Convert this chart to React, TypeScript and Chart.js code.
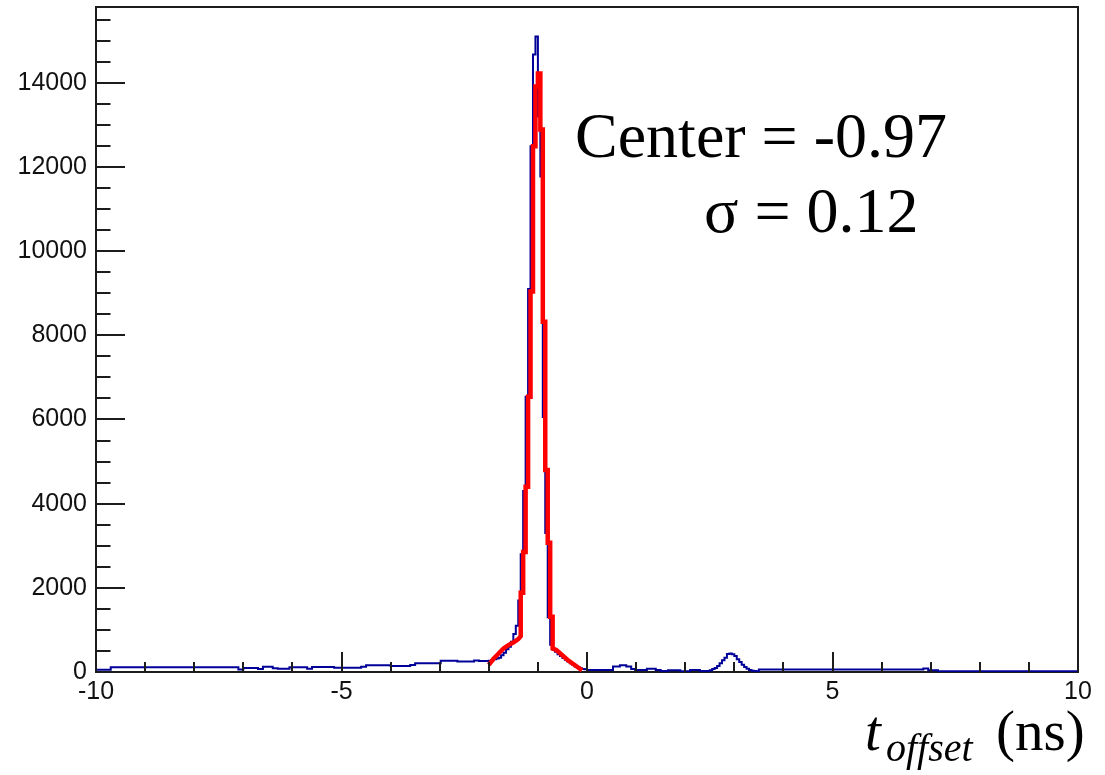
import React, { useEffect, useRef } from 'react';
import { Chart, registerables } from 'chart.js';

Chart.register(...registerables);

// ---- axis ranges & tick labels ----
const X_MIN = -10;
const X_MAX = 10;
const Y_MIN = 0;
const Y_MAX = 15800;
const xTickLabels = [-10, -5, 0, 5, 10];
const yTickLabels = [0, 2000, 4000, 6000, 8000, 10000, 12000, 14000];
const xMinorStep = 1;
const yMinorStep = 500;

// ---- histogram (blue): left bin edges and counts; last edge closes the histogram ----
const binLowEdges = [
  -10, -9.7, -7.1, -7.0, -6.7, -6.6, -6.4, -6.3, -6.06, -5.7, -5.6, -5.15, -4.6, -4.5, -4.0, -3.6, -3.5,
  -2.98, -2.64, -2.3, -2.2,
  -2.0, -1.95, -1.9, -1.85, -1.8, -1.75, -1.7, -1.65, -1.6, -1.55,
  -1.5, -1.45, -1.4, -1.35, -1.3, -1.25, -1.2, -1.15, -1.1, -1.05,
  -1.0, -0.95, -0.9, -0.85, -0.8, -0.75, -0.7, -0.65, -0.6, -0.55,
  -0.5, -0.45, -0.4, -0.35, -0.3, -0.25, -0.2, -0.15, -0.1, -0.05,
  0.0, 0.53, 0.67, 0.8, 0.9, 0.98, 1.22, 1.4, 1.5, 1.65, 1.9, 2.1, 2.3, 2.35,
  2.5, 2.55, 2.6, 2.65, 2.7, 2.75, 2.8, 2.85, 2.9, 2.95,
  3.0, 3.05, 3.1, 3.15, 3.2, 3.25, 3.3, 3.35, 3.4, 3.45,
  3.5, 6.85, 6.95, 7.15, 7.25,
];
const lastEdge = 10;
const binCounts = [
  40, 55, 110, 60, 95, 70, 125, 90, 80, 110, 80, 120, 100, 125, 160, 145, 165,
  210, 270, 250, 275,
  260, 270, 280, 300, 320, 340, 400, 460, 540, 600,
  720, 900, 1100, 1700, 2800, 4300, 6540, 9100, 12490, 14670,
  15100, 13200, 11770, 6060, 3300, 1300, 650, 520, 480, 420,
  380, 330, 290, 250, 210, 170, 130, 110, 90, 70,
  65, 45, 130, 160, 130, 70, 50, 80, 45, 22, 40, 20, 50, 22,
  24, 40, 70, 95, 140, 210, 280, 340, 430, 440,
  420, 380, 300, 240, 170, 120, 75, 50, 30, 22,
  18, 60, 85, 40, 18,
];

// ---- fit curve (red) ----
const fitX = [
  -2.0, -1.9, -1.8, -1.7, -1.6, -1.5, -1.4, -1.35,
  -1.35, -1.3, -1.3, -1.25, -1.25, -1.2, -1.2, -1.15, -1.15, -1.1, -1.1, -1.05, -1.05, -1.0,
  -1.0, -0.95, -0.95, -0.9, -0.9, -0.85, -0.85, -0.8, -0.8, -0.75, -0.75, -0.7, -0.7,
  -0.62, -0.4, -0.1,
];
const fitY = [
  170, 320, 440, 560, 640, 700, 780, 850,
  1880, 1880, 2850, 2850, 4400, 4400, 6540, 6540, 9040, 9040, 12490, 12490, 13910, 13910,
  14220, 14220, 12890, 12890, 8320, 8320, 4800, 4800, 3070, 3070, 1310, 1310, 560,
  520, 290, 40,
];

const TICK_FONT = '"Liberation Sans", Arial, Helvetica, sans-serif';
const SERIF = '"Liberation Serif", "Times New Roman", Times, serif';

const rootAxesPlugin = {
  id: 'rootAxes',
  beforeDatasetsDraw(chart: any) {
    const { ctx, chartArea: a } = chart;
    ctx.save();
    ctx.strokeStyle = '#1c1c1c';
    ctx.lineWidth = 2;
    ctx.strokeRect(a.left, a.top, a.right - a.left, a.bottom - a.top);
    ctx.restore();
  },
  afterDatasetsDraw(chart: any) {
    const { ctx, chartArea: a, scales } = chart;
    const x = scales.x;
    const y = scales.y;
    ctx.save();
    ctx.strokeStyle = '#1c1c1c';
    ctx.lineWidth = 2;
    ctx.beginPath();
    for (let v = Y_MIN; v <= Y_MAX; v += yMinorStep) {
      const py = Math.round(y.getPixelForValue(v));
      const len = v % 2000 === 0 ? 29 : 14.5;
      ctx.moveTo(a.left, py);
      ctx.lineTo(a.left + len, py);
    }
    for (let v = X_MIN; v <= X_MAX; v += xMinorStep) {
      const px = Math.round(x.getPixelForValue(v));
      const len = v % 5 === 0 ? 20 : 10;
      ctx.moveTo(px, a.bottom);
      ctx.lineTo(px, a.bottom - len);
    }
    ctx.stroke();
    ctx.restore();
  },
};

export default function App() {
  const ref = useRef<HTMLCanvasElement>(null);

  useEffect(() => {
    const histData = binLowEdges.map((e, i) => ({ x: e, y: binCounts[i] }));
    histData.push({ x: lastEdge, y: binCounts[binCounts.length - 1] });
    const fitData = fitX.map((xv, i) => ({ x: xv, y: fitY[i] }));

    const chart = new Chart(ref.current as HTMLCanvasElement, {
      type: 'line',
      data: {
        datasets: [
          {
            label: 'fit',
            data: fitData,
            borderColor: '#ff0000',
            borderWidth: 4.5,
            pointRadius: 0,
            tension: 0,
            fill: false,
            borderJoinStyle: 'miter',
            borderCapStyle: 'butt',
          },
          {
            label: 'hist',
            data: histData,
            stepped: 'after',
            borderColor: '#000099',
            borderWidth: 2,
            pointRadius: 0,
            fill: false,
            borderJoinStyle: 'miter',
          },
        ],
      },
      options: {
        responsive: false,
        animation: false,
        devicePixelRatio: 1,
        layout: { padding: { top: 7, right: 27, left: 0, bottom: 0 } },
        plugins: { legend: { display: false }, tooltip: { enabled: false } },
        scales: {
          x: {
            type: 'linear',
            min: X_MIN,
            max: X_MAX,
            grid: { display: false, drawTicks: false },
            border: { display: false },
            ticks: {
              font: { family: TICK_FONT, size: 25 },
              color: '#111',
              padding: 5,
              maxRotation: 0,
              autoSkip: false,
              callback: (v: any) => String(v),
            },
            afterBuildTicks: (s: any) => {
              s.ticks = xTickLabels.map((v) => ({ value: v }));
            },
            afterFit: (s: any) => {
              s.height = 103;
              s.paddingLeft = 0;
              s.paddingRight = 0;
            },
          },
          y: {
            type: 'linear',
            min: Y_MIN,
            max: Y_MAX,
            grid: { display: false, drawTicks: false },
            border: { display: false },
            ticks: {
              font: { family: TICK_FONT, size: 25 },
              color: '#111',
              padding: 9,
              autoSkip: false,
              callback: (v: any) => String(v),
            },
            afterBuildTicks: (s: any) => {
              s.ticks = yTickLabels.map((v) => ({ value: v }));
            },
            afterFit: (s: any) => {
              s.width = 96;
              s.paddingTop = 0;
              s.paddingBottom = 0;
            },
          },
        },
      },
      plugins: [rootAxesPlugin],
    } as any);
    return () => chart.destroy();
  }, []);

  const txt = (fs: number, baseline: number, left: number, italic = false): React.CSSProperties => ({
    position: 'absolute',
    left,
    top: baseline - 0.8375 * fs,
    fontFamily: SERIF,
    fontSize: fs,
    lineHeight: `${fs}px`,
    fontStyle: italic ? 'italic' : 'normal',
    whiteSpace: 'nowrap',
    color: '#000',
    margin: 0,
  });

  return (
    <div style={{ position: 'fixed', left: 0, top: 0, width: 1105, height: 775, background: '#fff' }}>
      <canvas ref={ref} width={1105} height={775} style={{ display: 'block' }} />
      <div style={txt(64, 158, 575)}>Center = -0.97</div>
      <div style={txt(64, 233, 704)}>σ = 0.12</div>
      <div style={txt(57, 750, 865, true)}>t</div>
      <div style={txt(40, 761, 886, true)}>offset</div>
      <div style={txt(57, 750, 996)}>(ns)</div>
    </div>
  );
}
